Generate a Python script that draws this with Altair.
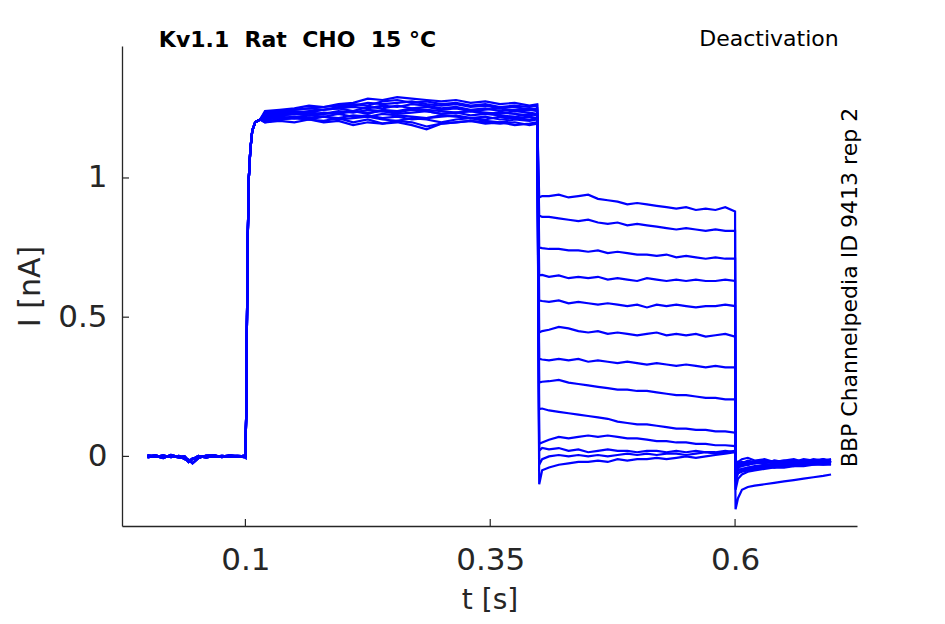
import altair as alt
import pandas as pd

# ---------------- data ----------------
X_TICKS = [0.1, 0.35, 0.6]
Y_TICKS = [0, 0.5, 1]

TITLE = "Kv1.1\u00a0\u00a0Rat\u00a0\u00a0CHO\u00a0\u00a015 °C"
PROTOCOL = "Deactivation"
SOURCE = "BBP Channelpedia ID 9413 rep 2"

# holding baseline (bundle of overlapping sweeps)
T_BASE = [0.0, 0.008, 0.016, 0.024, 0.032, 0.038, 0.042, 0.046, 0.052, 0.06, 0.068, 0.076, 0.084, 0.092, 0.0995]
BASELINES = [
    [0.0, 0.004, -0.003, 0.002, -0.004, -0.006, -0.02, -0.008, -0.004, 0.001, -0.002, 0.002, -0.001, 0.002, 0.0],
    [0.005, -0.002, 0.004, -0.003, 0.002, -0.01, -0.012, -0.025, -0.006, 0.003, 0.004, -0.003, 0.003, -0.002, 0.003],
    [-0.004, 0.002, -0.006, 0.005, -0.002, 0.0, -0.015, -0.01, 0.002, -0.004, 0.003, -0.001, 0.004, 0.001, -0.003],
]

# activation rise (shared by all sweeps)
T_RISE = [0.1, 0.1008, 0.1015, 0.1025, 0.1035, 0.105, 0.107, 0.11, 0.115]
I_RISE = [0.0, 0.15, 0.45, 0.8, 1.0, 1.1, 1.17, 1.2, 1.21]

# activating step plateau
T_PLAT = [0.12, 0.135, 0.15, 0.165, 0.18, 0.195, 0.21, 0.225, 0.24, 0.255,
          0.27, 0.285, 0.3, 0.315, 0.33, 0.345, 0.36, 0.375, 0.39, 0.398]
PLATEAU = [
    [1.2, 1.21, 1.215, 1.21, 1.22, 1.21, 1.215, 1.22, 1.21, 1.205, 1.215, 1.21, 1.2, 1.21, 1.215, 1.205, 1.2, 1.21, 1.205, 1.21],
    [1.22, 1.225, 1.23, 1.225, 1.235, 1.23, 1.24, 1.235, 1.24, 1.23, 1.235, 1.24, 1.23, 1.235, 1.225, 1.23, 1.225, 1.22, 1.23, 1.225],
    [1.23, 1.24, 1.245, 1.25, 1.245, 1.255, 1.26, 1.27, 1.265, 1.27, 1.275, 1.265, 1.26, 1.265, 1.255, 1.26, 1.25, 1.255, 1.245, 1.25],
    [1.21, 1.22, 1.215, 1.225, 1.22, 1.23, 1.22, 1.225, 1.215, 1.22, 1.21, 1.215, 1.225, 1.22, 1.215, 1.22, 1.21, 1.215, 1.22, 1.215],
    [1.225, 1.235, 1.24, 1.235, 1.245, 1.25, 1.24, 1.255, 1.25, 1.26, 1.25, 1.255, 1.245, 1.25, 1.24, 1.245, 1.25, 1.24, 1.245, 1.24],
    [1.24, 1.245, 1.25, 1.26, 1.255, 1.265, 1.27, 1.285, 1.28, 1.29, 1.285, 1.28, 1.275, 1.28, 1.27, 1.275, 1.265, 1.27, 1.26, 1.265],
    [1.2, 1.205, 1.2, 1.21, 1.2, 1.205, 1.19, 1.2, 1.195, 1.205, 1.2, 1.185, 1.195, 1.2, 1.205, 1.195, 1.2, 1.19, 1.195, 1.2],
    [1.215, 1.225, 1.23, 1.225, 1.23, 1.24, 1.235, 1.245, 1.24, 1.235, 1.245, 1.24, 1.23, 1.235, 1.24, 1.23, 1.235, 1.23, 1.225, 1.23],
    [1.21, 1.215, 1.22, 1.215, 1.22, 1.215, 1.225, 1.22, 1.23, 1.225, 1.22, 1.215, 1.22, 1.225, 1.215, 1.21, 1.22, 1.215, 1.21, 1.215],
    [1.235, 1.24, 1.245, 1.25, 1.255, 1.26, 1.265, 1.26, 1.275, 1.28, 1.27, 1.275, 1.265, 1.27, 1.26, 1.265, 1.255, 1.26, 1.255, 1.26],
    [1.205, 1.21, 1.215, 1.21, 1.205, 1.215, 1.2, 1.21, 1.195, 1.2, 1.19, 1.175, 1.195, 1.2, 1.205, 1.2, 1.195, 1.2, 1.19, 1.195],
    [1.225, 1.23, 1.235, 1.24, 1.245, 1.25, 1.255, 1.25, 1.26, 1.255, 1.265, 1.26, 1.25, 1.255, 1.245, 1.25, 1.24, 1.245, 1.25, 1.245],
    [1.22, 1.225, 1.23, 1.235, 1.23, 1.235, 1.24, 1.23, 1.245, 1.24, 1.25, 1.245, 1.24, 1.235, 1.24, 1.235, 1.23, 1.24, 1.235, 1.23],
]

# deactivating tail step
T_TAIL = [0.4, 0.403, 0.41, 0.42, 0.43, 0.44, 0.45, 0.46, 0.47, 0.48, 0.49,
          0.5, 0.51, 0.52, 0.53, 0.54, 0.55, 0.56, 0.57, 0.58, 0.59, 0.6]
TAIL = [
    [0.93, 0.935, 0.935, 0.94, 0.93, 0.935, 0.94, 0.925, 0.92, 0.915, 0.905, 0.91, 0.905, 0.9, 0.895, 0.89, 0.895, 0.885, 0.89, 0.885, 0.895, 0.88],
    [0.865, 0.86, 0.86, 0.855, 0.85, 0.845, 0.85, 0.84, 0.835, 0.84, 0.83, 0.835, 0.83, 0.825, 0.82, 0.815, 0.82, 0.815, 0.81, 0.815, 0.81, 0.81],
    [0.75, 0.748, 0.745, 0.745, 0.74, 0.74, 0.735, 0.74, 0.73, 0.735, 0.73, 0.725, 0.725, 0.72, 0.725, 0.715, 0.72, 0.715, 0.71, 0.715, 0.71, 0.71],
    [0.65, 0.652, 0.645, 0.65, 0.64, 0.645, 0.64, 0.645, 0.635, 0.64, 0.635, 0.63, 0.64, 0.635, 0.63, 0.635, 0.63, 0.635, 0.63, 0.63, 0.635, 0.63],
    [0.56, 0.558, 0.555, 0.56, 0.55, 0.555, 0.55, 0.545, 0.55, 0.545, 0.54, 0.545, 0.535, 0.545, 0.54, 0.545, 0.54, 0.535, 0.54, 0.54, 0.545, 0.54],
    [0.445, 0.45, 0.455, 0.465, 0.46, 0.45, 0.445, 0.45, 0.44, 0.445, 0.44, 0.435, 0.44, 0.445, 0.435, 0.44, 0.435, 0.44, 0.43, 0.435, 0.44, 0.43],
    [0.35, 0.348, 0.345, 0.35, 0.345, 0.35, 0.34, 0.345, 0.34, 0.335, 0.34, 0.335, 0.33, 0.335, 0.33, 0.325, 0.33, 0.325, 0.32, 0.325, 0.32, 0.32],
    [0.265, 0.268, 0.27, 0.275, 0.265, 0.26, 0.255, 0.25, 0.245, 0.24, 0.24, 0.235, 0.235, 0.23, 0.225, 0.22, 0.22, 0.215, 0.21, 0.21, 0.205, 0.205],
    [0.17, 0.172, 0.165, 0.16, 0.155, 0.15, 0.145, 0.14, 0.135, 0.125, 0.12, 0.115, 0.115, 0.11, 0.105, 0.1, 0.1, 0.095, 0.095, 0.09, 0.09, 0.085],
    [0.045, 0.05, 0.06, 0.07, 0.065, 0.07, 0.075, 0.07, 0.075, 0.07, 0.065, 0.065, 0.06, 0.055, 0.055, 0.05, 0.05, 0.045, 0.045, 0.04, 0.04, 0.037],
    [0.02, 0.03, 0.025, 0.03, 0.02, 0.025, 0.015, 0.02, 0.025, 0.02, 0.02, 0.015, 0.02, 0.02, 0.015, 0.02, 0.015, 0.02, 0.015, 0.015, 0.02, 0.015],
    [-0.03, -0.01, 0.0, 0.005, 0.0, 0.005, 0.0, 0.005, 0.0, 0.005, 0.01, 0.005, 0.01, 0.005, 0.01, 0.01, 0.005, 0.01, 0.015, 0.01, 0.015, 0.02],
    [-0.1, -0.05, -0.04, -0.03, -0.025, -0.02, -0.02, -0.015, -0.02, -0.01, -0.015, -0.01, -0.01, -0.005, -0.01, -0.005, 0.0, -0.005, 0.0, 0.005, 0.01, 0.015],
]

# return to holding
T_POST = [0.6005, 0.603, 0.607, 0.613, 0.62, 0.63, 0.64, 0.65, 0.66, 0.67, 0.68, 0.69, 0.698]
POST = [
    [-0.06, -0.035, -0.03, -0.02, -0.025, -0.015, -0.02, -0.015, -0.02, -0.01, -0.015, -0.02, -0.015],
    [-0.05, -0.03, -0.025, -0.03, -0.02, -0.025, -0.015, -0.02, -0.025, -0.015, -0.02, -0.01, -0.015],
    [-0.07, -0.04, -0.035, -0.03, -0.025, -0.02, -0.025, -0.02, -0.015, -0.02, -0.015, -0.02, -0.02],
    [-0.05, -0.02, -0.01, -0.005, -0.015, -0.01, -0.02, -0.015, -0.01, -0.02, -0.015, -0.01, -0.02],
    [-0.08, -0.05, -0.045, -0.04, -0.035, -0.03, -0.03, -0.025, -0.025, -0.02, -0.025, -0.02, -0.02],
    [-0.06, -0.03, -0.02, -0.025, -0.02, -0.015, -0.02, -0.02, -0.015, -0.02, -0.01, -0.015, -0.01],
    [-0.09, -0.06, -0.05, -0.045, -0.04, -0.035, -0.03, -0.03, -0.025, -0.025, -0.02, -0.025, -0.02],
    [-0.04, -0.02, -0.025, -0.015, -0.02, -0.025, -0.015, -0.02, -0.02, -0.015, -0.02, -0.015, -0.02],
    [-0.07, -0.045, -0.05, -0.04, -0.045, -0.035, -0.04, -0.03, -0.035, -0.025, -0.03, -0.025, -0.02],
    [-0.05, -0.025, -0.02, -0.03, -0.02, -0.02, -0.025, -0.02, -0.015, -0.02, -0.015, -0.02, -0.015],
    [-0.08, -0.06, -0.055, -0.05, -0.045, -0.04, -0.035, -0.035, -0.03, -0.03, -0.025, -0.03, -0.025],
    [-0.12, -0.08, -0.065, -0.055, -0.05, -0.045, -0.04, -0.04, -0.035, -0.035, -0.03, -0.03, -0.03],
    [-0.19, -0.15, -0.12, -0.11, -0.105, -0.1, -0.095, -0.09, -0.085, -0.08, -0.075, -0.07, -0.065],
]

for arr in PLATEAU:
    assert len(arr) == len(T_PLAT)
for arr in TAIL:
    assert len(arr) == len(T_TAIL)
for arr in POST:
    assert len(arr) == len(T_POST)
for arr in BASELINES:
    assert len(arr) == len(T_BASE)

# ---------------- build the table ----------------
rows = []
for k in range(len(TAIL)):
    seq = (list(zip(T_BASE, BASELINES[k % len(BASELINES)]))
           + list(zip(T_RISE, I_RISE))
           + list(zip(T_PLAT, PLATEAU[k]))
           + list(zip(T_TAIL, TAIL[k]))
           + list(zip(T_POST, POST[k])))
    for j, (t, i) in enumerate(seq):
        rows.append({"trace": k, "idx": j, "t": t, "I": i})
df = pd.DataFrame(rows)

FONT = "DejaVu Sans"
INK = "#262626"
W, H = 735, 480

xscale = alt.Scale(domain=[-0.026, 0.7245], nice=False, zero=False)
yscale = alt.Scale(domain=[-0.25, 1.474], nice=False, zero=False)

xaxis = alt.Axis(values=X_TICKS, format="~g", title="t [s]", grid=False,
                 ticks=False, tickSize=0, domainColor=INK, domainWidth=1.3,
                 labelFont=FONT, labelFontSize=31, labelColor=INK, labelPadding=19,
                 titleFont=FONT, titleFontSize=28, titleColor=INK,
                 titleFontWeight="normal", titlePadding=11)
yaxis = alt.Axis(values=Y_TICKS, format="~g", title="I [nA]", grid=False,
                 ticks=False, tickSize=0, domainColor=INK, domainWidth=1.3,
                 labelFont=FONT, labelFontSize=31, labelColor=INK, labelPadding=15,
                 titleFont=FONT, titleFontSize=30, titleColor=INK,
                 titleFontWeight="normal", titlePadding=12)

traces = alt.Chart(df).mark_line(color="#0000ff", strokeWidth=2.2).encode(
    x=alt.X("t:Q", scale=xscale, axis=xaxis),
    y=alt.Y("I:Q", scale=yscale, axis=yaxis),
    detail="trace:N",
    order="idx:Q",
)

xt = alt.Chart(pd.DataFrame({"t": X_TICKS})).mark_rule(color=INK, strokeWidth=1.2).encode(
    x=alt.X("t:Q"), y=alt.value(H), y2=alt.value(H - 7))
yt = alt.Chart(pd.DataFrame({"I": Y_TICKS})).mark_rule(color=INK, strokeWidth=1.2).encode(
    y=alt.Y("I:Q"), x=alt.value(0), x2=alt.value(7))

title_txt = alt.Chart(pd.DataFrame({"s": [TITLE]})).mark_text(
    font=FONT, fontSize=22, fontWeight="bold", color="#000000",
    align="center", baseline="middle").encode(
    text="s:N", x=alt.value(175.5), y=alt.value(-6))
proto_txt = alt.Chart(pd.DataFrame({"s": [PROTOCOL]})).mark_text(
    font=FONT, fontSize=22, color="#000000",
    align="center", baseline="middle").encode(
    text="s:N", x=alt.value(647), y=alt.value(-7))
src_txt = alt.Chart(pd.DataFrame({"s": [SOURCE]})).mark_text(
    font=FONT, fontSize=22, color="#000000", angle=270,
    align="center", baseline="middle").encode(
    text="s:N", x=alt.value(728), y=alt.value(241.5))

chart = alt.layer(traces, xt, yt, title_txt, proto_txt, src_txt).properties(
    width=W, height=H,
    padding={"left": 114, "top": 38, "right": 80, "bottom": 90},
    autosize=alt.AutoSizeParams(type="none"),
    background="white",
).configure_view(stroke=None)

chart.save("out.html", embed_options={"renderer": "svg", "actions": False})
